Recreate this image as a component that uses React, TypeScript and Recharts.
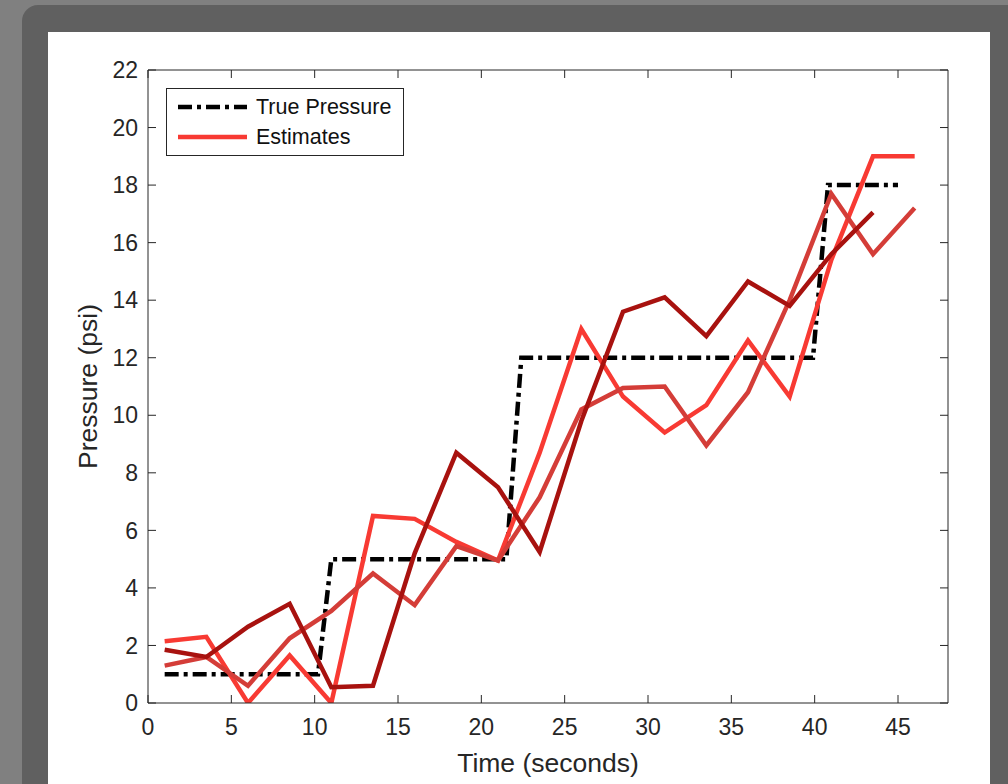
import React from 'react';
import { LineChart, Line, XAxis, YAxis, Legend } from 'recharts';

const estTimes = [1, 3.5, 6, 8.5, 11, 13.5, 16, 18.5, 21, 23.5, 26, 28.5, 31, 33.5, 36, 38.5, 41, 43.5, 46];
const trueTimes = [1, 10.2, 11, 21.5, 22.4, 39.9, 40.8, 45];
const trueValues = [1, 1, 5, 5, 12, 12, 18, 18];
const estBright = [2.15, 2.3, 0, 1.65, 0, 6.5, 6.4, 5.6, 4.95, 8.7, 13.0, 10.65, 9.4, 10.35, 12.6, 10.65, 15.4, 19.0, 19.0];
const estMedium = [1.3, 1.6, 0.6, 2.25, 3.2, 4.5, 3.4, 5.45, 4.95, 7.15, 10.2, 10.95, 11.0, 8.95, 10.8, 14.0, 17.7, 15.6, 17.2];
const estDark = [1.85, 1.6, 2.65, 3.45, 0.55, 0.6, 5.2, 8.7, 7.5, 5.25, 9.8, 13.6, 14.1, 12.75, 14.65, 13.8, 15.6, 17.05];
const xTicks = [0, 5, 10, 15, 20, 25, 30, 35, 40, 45];
const yTicks = [0, 2, 4, 6, 8, 10, 12, 14, 16, 18, 20, 22];
const legendLabels = ['True Pressure', 'Estimates'];

const toPoints = (ts: number[], vs: number[]) => vs.map((v, i) => ({ t: ts[i], v }));
const trueData = toPoints(trueTimes, trueValues);
const brightData = toPoints(estTimes, estBright);
const mediumData = toPoints(estTimes, estMedium);
const darkData = toPoints(estTimes, estDark);

const FONT = '"Liberation Sans", Arial, Helvetica, sans-serif';
const AXIS = '#262626';
const C_BRIGHT = '#f83a33';
const C_MED = '#d43d38';
const C_DARK = '#a8120f';
const DASH = '14 5 4 5';

const LegendBox = () => (
  <div
    style={{
      width: 236,
      height: 66,
      border: `1px solid ${AXIS}`,
      background: '#fff',
      fontFamily: FONT,
      fontSize: 21.5,
      color: '#111',
      position: 'relative',
    }}
  >
    <svg width={80} height={66} style={{ position: 'absolute', left: 0, top: 0 }}>
      <line x1={11} x2={80} y1={18} y2={18} stroke="#000" strokeWidth={4.5} strokeDasharray={DASH} />
      <line x1={11} x2={80} y1={48} y2={48} stroke={C_BRIGHT} strokeWidth={4.5} />
    </svg>
    <div style={{ position: 'absolute', left: 89, top: 6, lineHeight: '24px', whiteSpace: 'nowrap' }}>{legendLabels[0]}</div>
    <div style={{ position: 'absolute', left: 89, top: 36, lineHeight: '24px', whiteSpace: 'nowrap' }}>{legendLabels[1]}</div>
  </div>
);

export default function App() {
  const tickStyle = { fill: AXIS, fontSize: 23, fontFamily: FONT };
  return (
    <div style={{ position: 'absolute', left: 0, top: 0, width: 1008, height: 784, background: '#808080', overflow: 'hidden' }}>
      <div style={{ position: 'absolute', left: 22, top: 5, width: 1010, height: 800, background: '#606060', borderRadius: 16 }} />
      <div style={{ position: 'absolute', left: 48, top: 32, width: 942, height: 760, background: '#ffffff' }} />
      <div style={{ position: 'absolute', left: 0, top: 0 }}>
        <LineChart width={1008} height={784} margin={{ top: 69, right: 59, bottom: 41, left: 88 }}>
          <XAxis
            xAxisId="bottom"
            type="number"
            dataKey="t"
            domain={[0, 48]}
            ticks={xTicks}
            allowDataOverflow
            height={40}
            stroke={AXIS}
            tick={tickStyle}
            tickSize={-8}
            tickMargin={24}
            label={{ value: 'Time (seconds)', position: 'bottom', offset: 10, fill: AXIS, fontSize: 26.5, fontFamily: FONT }}
          />
          <XAxis
            xAxisId="top"
            orientation="top"
            type="number"
            dataKey="t"
            domain={[0, 48]}
            ticks={xTicks}
            allowDataOverflow
            height={1}
            stroke={AXIS}
            tickFormatter={() => ''}
            tickSize={-8}
          />
          <YAxis
            yAxisId="left"
            type="number"
            domain={[0, 22]}
            ticks={yTicks}
            allowDataOverflow
            width={60}
            stroke={AXIS}
            tick={tickStyle}
            tickSize={-8}
            tickMargin={18}
            label={{ value: 'Pressure (psi)', angle: -90, position: 'insideLeft', offset: 0, fill: AXIS, fontSize: 26.5, fontFamily: FONT, style: { textAnchor: 'middle' } }}
          />
          <YAxis
            yAxisId="right"
            orientation="right"
            type="number"
            domain={[0, 22]}
            ticks={yTicks}
            allowDataOverflow
            width={1}
            stroke={AXIS}
            tickFormatter={() => ''}
            tickSize={-8}
          />
          <Line xAxisId="bottom" yAxisId="left" data={trueData} dataKey="v" type="linear" stroke="#000" strokeWidth={4.5} strokeDasharray={DASH} dot={false} isAnimationActive={false} />
          <Line xAxisId="bottom" yAxisId="left" data={brightData} dataKey="v" type="linear" stroke={C_BRIGHT} strokeWidth={4.5} dot={false} isAnimationActive={false} />
          <Line xAxisId="bottom" yAxisId="left" data={mediumData} dataKey="v" type="linear" stroke={C_MED} strokeWidth={4.5} dot={false} isAnimationActive={false} />
          <Line xAxisId="bottom" yAxisId="left" data={darkData} dataKey="v" type="linear" stroke={C_DARK} strokeWidth={4.5} dot={false} isAnimationActive={false} />
          <Legend
            layout="vertical"
            align="center"
            verticalAlign="middle"
            content={() => <LegendBox />}
            wrapperStyle={{ left: 166, top: 88, width: 238, height: 68, margin: 0 }}
          />
        </LineChart>
      </div>
    </div>
  );
}
